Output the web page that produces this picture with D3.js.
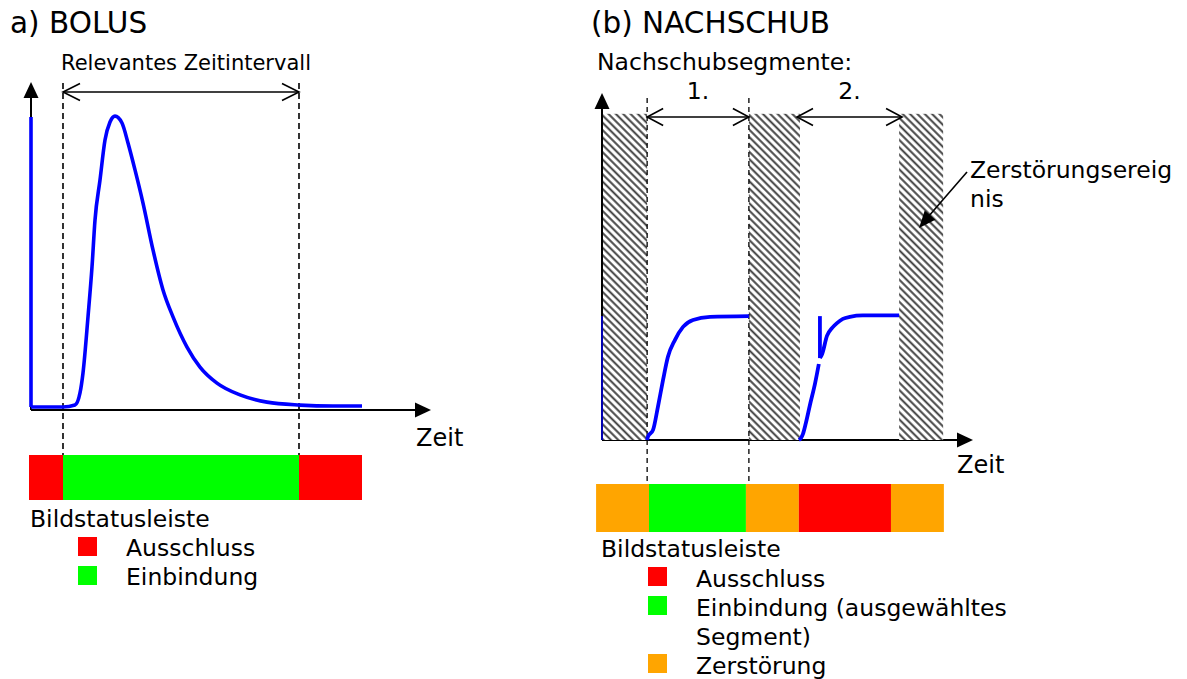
<!DOCTYPE html>
<html><head><meta charset="utf-8">
<script src="https://cdn.jsdelivr.net/npm/d3@7"></script>
<style>
html,body{margin:0;padding:0;background:#fff;}
svg{display:block;font-family:"DejaVu Sans",Verdana,sans-serif;}
</style></head><body>
<svg id="c" width="1187" height="679"></svg>
<script>
// ================= DATA =================
// Panel a) BOLUS
const bolusSpikeTime = [0, 0];
const bolusSpikeValue = [89.3, 0.9];
const bolusTime  = [0, 8, 11, 12.25, 13, 14.25, 15.25, 16, 17.25, 18.5, 19.75, 21, 22.75, 24.25, 26, 28, 30.5, 33, 35.5, 39, 42.25, 46.5, 52.25, 59, 67.25, 75.5, 82.75];
const bolusValue = [0.9, 0.9, 1.5, 5.2, 11.3, 28.4, 43.6, 57.9, 70.1, 82.3, 87.8, 89.6, 87.5, 81.4, 73.2, 63.1, 48.8, 36.6, 28.4, 19.2, 13.1, 8.2, 4.6, 2.4, 1.5, 1.2, 1.2];
const relevantInterval = [8, 67];
const bolusStatusStart = [-0.5, 8, 67];
const bolusStatusEnd   = [8, 67, 82.75];
const bolusStatus      = ["Ausschluss", "Einbindung", "Ausschluss"];

// Panel b) NACHSCHUB
const destructionStart = [0, 39.7, 80.3];
const destructionEnd   = [12.2, 53.5, 92.2];
const destructionLevel = 94;
const initSignalValue  = [35.7, 0];
const rep1Time  = [12.2, 12.4, 13.8, 15.1, 16.5, 17.8, 19.7, 21.9, 24.6, 29.2, 39.7];
const rep1Value = [0, 0.9, 2.9, 9.5, 17.3, 23.9, 28.8, 32.6, 34.6, 35.5, 35.7];
const rep2aTime  = [53.2, 53.8, 54.3, 55.1, 56.2, 57.6, 58.6];
const rep2aValue = [0, 0.6, 1.7, 4.9, 10.1, 16.4, 21.9];
const rep2SpikeTime  = [58.9, 58.9];
const rep2SpikeValue = [35.7, 23.6];
const rep2bTime  = [58.9, 59.5, 60.8, 62.2, 63.5, 65.1, 67.0, 70.5, 80.3];
const rep2bValue = [23.6, 24.8, 30.0, 32.3, 33.7, 34.9, 35.5, 35.9, 35.9];
const segmentStart = [12.2, 52.7];
const segmentEnd   = [39.7, 81.1];
const segmentLabel = ["1.", "2."];
const selectedBounds = [12.2, 39.7];
const replStatusStart = [-1.6, 12.7, 38.9, 53.2, 78.1];
const replStatusEnd   = [12.7, 38.9, 53.2, 78.1, 92.4];
const replStatus      = ["Zerstörung", "Einbindung", "Zerstörung", "Ausschluss", "Zerstörung"];

// Legends
const legendA = ["Ausschluss", "Einbindung"];
const legendB = [["Ausschluss"], ["Einbindung (ausgewähltes", "Segment)"], ["Zerstörung"]];
const statusColor = {"Ausschluss": "#ff0000", "Einbindung": "#00ff00", "Zerstörung": "#ffa500"};

// ================= DRAW =================
const svg = d3.select("#c");
const defs = svg.append("defs");
const HP = 5.2;
const pat = defs.append("pattern").attr("id", "hatch").attr("patternUnits", "userSpaceOnUse")
  .attr("width", HP).attr("height", HP).attr("patternTransform", "rotate(-45)");
pat.append("rect").attr("width", HP).attr("height", HP).attr("fill", "#fff");
pat.append("line").attr("x1", 1.3).attr("y1", -1).attr("x2", 1.3).attr("y2", HP + 1).attr("stroke", "#3a3a3a").attr("stroke-width", 1.9);

const FS = 23.5;
function tri(g, x, y, dir, len = 16, hw = 7.5) {
  let p;
  if (dir === "r") p = [[x, y], [x - len, y - hw], [x - len, y + hw]];
  else if (dir === "u") p = [[x, y], [x - hw, y + len], [x + hw, y + len]];
  g.append("path").attr("d", "M" + p.map(d => d.join(",")).join("L") + "Z").attr("fill", "#000");
}
function dblArrow(g, x1, x2, y, len = 17, hw = 8.5) {
  g.append("line").attr("x1", x1).attr("x2", x2).attr("y1", y).attr("y2", y).attr("stroke", "#000").attr("stroke-width", 1.6);
  g.append("path").attr("d", `M${x1 + len},${y - hw}L${x1},${y}L${x1 + len},${y + hw}`).attr("fill", "none").attr("stroke", "#000").attr("stroke-width", 1.6);
  g.append("path").attr("d", `M${x2 - len},${y - hw}L${x2},${y}L${x2 - len},${y + hw}`).attr("fill", "none").attr("stroke", "#000").attr("stroke-width", 1.6);
}
function txt(g, x, y, s, size, anchor = "start") {
  return g.append("text").attr("x", x).attr("y", y).attr("font-size", size).attr("text-anchor", anchor).attr("fill", "#000").text(s);
}

// ---------- Panel a ----------
const gA = svg.append("g");
const xA = d3.scaleLinear().domain([0, 100]).range([31, 431]);
const yA = d3.scaleLinear().domain([0, 100]).range([410, 82]);

txt(gA, 10, 33, "a) BOLUS", 29.5);
txt(gA, 61, 70, "Relevantes Zeitintervall", 21);

const axA = gA.append("g").attr("transform", `translate(0,${yA(0)})`)
  .call(d3.axisBottom(xA).tickValues([]).tickSizeOuter(0));
axA.select(".domain").attr("stroke-width", 2).attr("d", `M${xA(0)},0H${xA(100) - 12}`);
tri(gA, xA(100), yA(0), "r");
const ayA = gA.append("g").attr("transform", `translate(${xA(0)},0)`)
  .call(d3.axisLeft(yA).tickValues([]).tickSizeOuter(0));
ayA.select(".domain").attr("stroke-width", 2).attr("d", `M0,${yA(0)}V${yA(100) + 12}`);
tri(gA, xA(0), yA(100), "u");

const barA = {y: 455, h: 45};
gA.selectAll("rect.st").data(bolusStatus).join("rect").attr("class", "st")
  .attr("x", (d, i) => xA(bolusStatusStart[i]))
  .attr("width", (d, i) => xA(bolusStatusEnd[i]) - xA(bolusStatusStart[i]))
  .attr("y", barA.y).attr("height", barA.h).attr("fill", d => statusColor[d]);

gA.selectAll("line.dash").data(relevantInterval).join("line").attr("class", "dash")
  .attr("x1", d => xA(d)).attr("x2", d => xA(d)).attr("y1", 83).attr("y2", barA.y)
  .attr("stroke", "#000").attr("stroke-width", 1.6).attr("stroke-dasharray", "6,4");
dblArrow(gA, xA(relevantInterval[0]), xA(relevantInterval[1]), 92);

const lineA = d3.line().x(d => xA(d[0])).y(d => yA(d[1]));
gA.append("path").attr("d", lineA(bolusSpikeTime.map((t, i) => [t, bolusSpikeValue[i]])))
  .attr("fill", "none").attr("stroke", "#0000ff").attr("stroke-width", 3.6);
gA.append("path").attr("d", lineA.curve(d3.curveMonotoneX)(bolusTime.map((t, i) => [t, bolusValue[i]])))
  .attr("fill", "none").attr("stroke", "#0000ff").attr("stroke-width", 3.6).attr("stroke-linejoin", "round");

txt(gA, 416, 446, "Zeit", 24);

txt(gA, 30, 527, "Bildstatusleiste", FS);
legendA.forEach((k, i) => {
  const by = 556 + i * 29;
  gA.append("rect").attr("x", 78).attr("y", by - 19).attr("width", 19).attr("height", 19).attr("fill", statusColor[k]);
  txt(gA, 126, by, k, FS);
});

// ---------- Panel b ----------
const gB = svg.append("g");
const xB = d3.scaleLinear().domain([0, 100]).range([602, 972]);
const yB = d3.scaleLinear().domain([0, 100]).range([440, 93]);

txt(gB, 591, 33, "(b) NACHSCHUB", 29.5);
txt(gB, 597, 70, "Nachschubsegmente:", FS);

const axB = gB.append("g").attr("transform", `translate(0,${yB(0)})`)
  .call(d3.axisBottom(xB).tickValues([]).tickSizeOuter(0));
axB.select(".domain").attr("stroke-width", 2).attr("d", `M${xB(0)},0H${xB(100) - 12}`);
tri(gB, xB(100) + 1, yB(0), "r");

gB.selectAll("rect.h").data(destructionStart).join("rect").attr("class", "h")
  .attr("x", (d, i) => xB(d)).attr("width", (d, i) => xB(destructionEnd[i]) - xB(d))
  .attr("y", yB(destructionLevel)).attr("height", yB(0) - yB(destructionLevel))
  .attr("fill", "url(#hatch)");

const ayB = gB.append("g").attr("transform", `translate(${xB(0)},0)`)
  .call(d3.axisLeft(yB).tickValues([]).tickSizeOuter(0));
ayB.select(".domain").attr("stroke-width", 2).attr("d", `M0,${yB(0)}V${yB(100) + 12}`);
tri(gB, xB(0), yB(100), "u");

const barB = {y: 484, h: 48};
gB.selectAll("rect.st").data(replStatus).join("rect").attr("class", "st")
  .attr("x", (d, i) => xB(replStatusStart[i]))
  .attr("width", (d, i) => xB(replStatusEnd[i]) - xB(replStatusStart[i]))
  .attr("y", barB.y).attr("height", barB.h).attr("fill", d => statusColor[d]);

gB.selectAll("line.dash").data(selectedBounds).join("line").attr("class", "dash")
  .attr("x1", d => xB(d)).attr("x2", d => xB(d)).attr("y1", 98).attr("y2", barB.y)
  .attr("stroke", "#000").attr("stroke-width", 1.3).attr("stroke-dasharray", "5,4");

segmentLabel.forEach((s, i) => {
  dblArrow(gB, xB(segmentStart[i]), xB(segmentEnd[i]), 117, 16, 8.5);
  txt(gB, (xB(segmentStart[i]) + xB(segmentEnd[i])) / 2, 99, s, FS, "middle");
});

const lineB = d3.line().x(d => xB(d[0])).y(d => yB(d[1]));
const lineBs = d3.line().x(d => xB(d[0])).y(d => yB(d[1])).curve(d3.curveMonotoneX);
gB.append("path").attr("d", lineB(initSignalValue.map(v => [0, v])))
  .attr("fill", "none").attr("stroke", "#0000e0").attr("stroke-width", 1.6);
const curveStyle = p => p.attr("fill", "none").attr("stroke", "#0000ff").attr("stroke-width", 3.8).attr("stroke-linejoin", "round");
curveStyle(gB.append("path").attr("d", lineBs(rep1Time.map((t, i) => [t, rep1Value[i]]))));
curveStyle(gB.append("path").attr("d", lineBs(rep2aTime.map((t, i) => [t, rep2aValue[i]]))));
curveStyle(gB.append("path").attr("d", lineB(rep2SpikeTime.map((t, i) => [t, rep2SpikeValue[i]]))));
curveStyle(gB.append("path").attr("d", lineBs(rep2bTime.map((t, i) => [t, rep2bValue[i]]))));

txt(gB, 970, 178, "Zerstörungsereig", FS);
txt(gB, 970, 207, "nis", FS);
gB.append("line").attr("x1", 967).attr("y1", 172).attr("x2", 928).attr("y2", 217).attr("stroke", "#000").attr("stroke-width", 1.6);
(function () {
  const tx = 919, ty = 228, ang = Math.atan2(228 - 172, 919 - 967), len = 17, hw = 7;
  const bx = tx - len * Math.cos(ang), by = ty - len * Math.sin(ang);
  const px = -Math.sin(ang) * hw, py = Math.cos(ang) * hw;
  gB.append("path").attr("d", `M${tx},${ty}L${bx + px},${by + py}L${bx - px},${by - py}Z`).attr("fill", "#000");
})();

txt(gB, 957, 473, "Zeit", 24);

txt(gB, 601, 557, "Bildstatusleiste", FS);
let row = 0;
legendB.forEach(lines => {
  const by = 587 + row * 29;
  gB.append("rect").attr("x", 648).attr("y", by - 20).attr("width", 19).attr("height", 19).attr("fill", statusColor[lines[0].split(" ")[0]]);
  lines.forEach((l, j) => txt(gB, 696, by + j * 29, l, FS));
  row += lines.length;
});
</script>
</body></html>
